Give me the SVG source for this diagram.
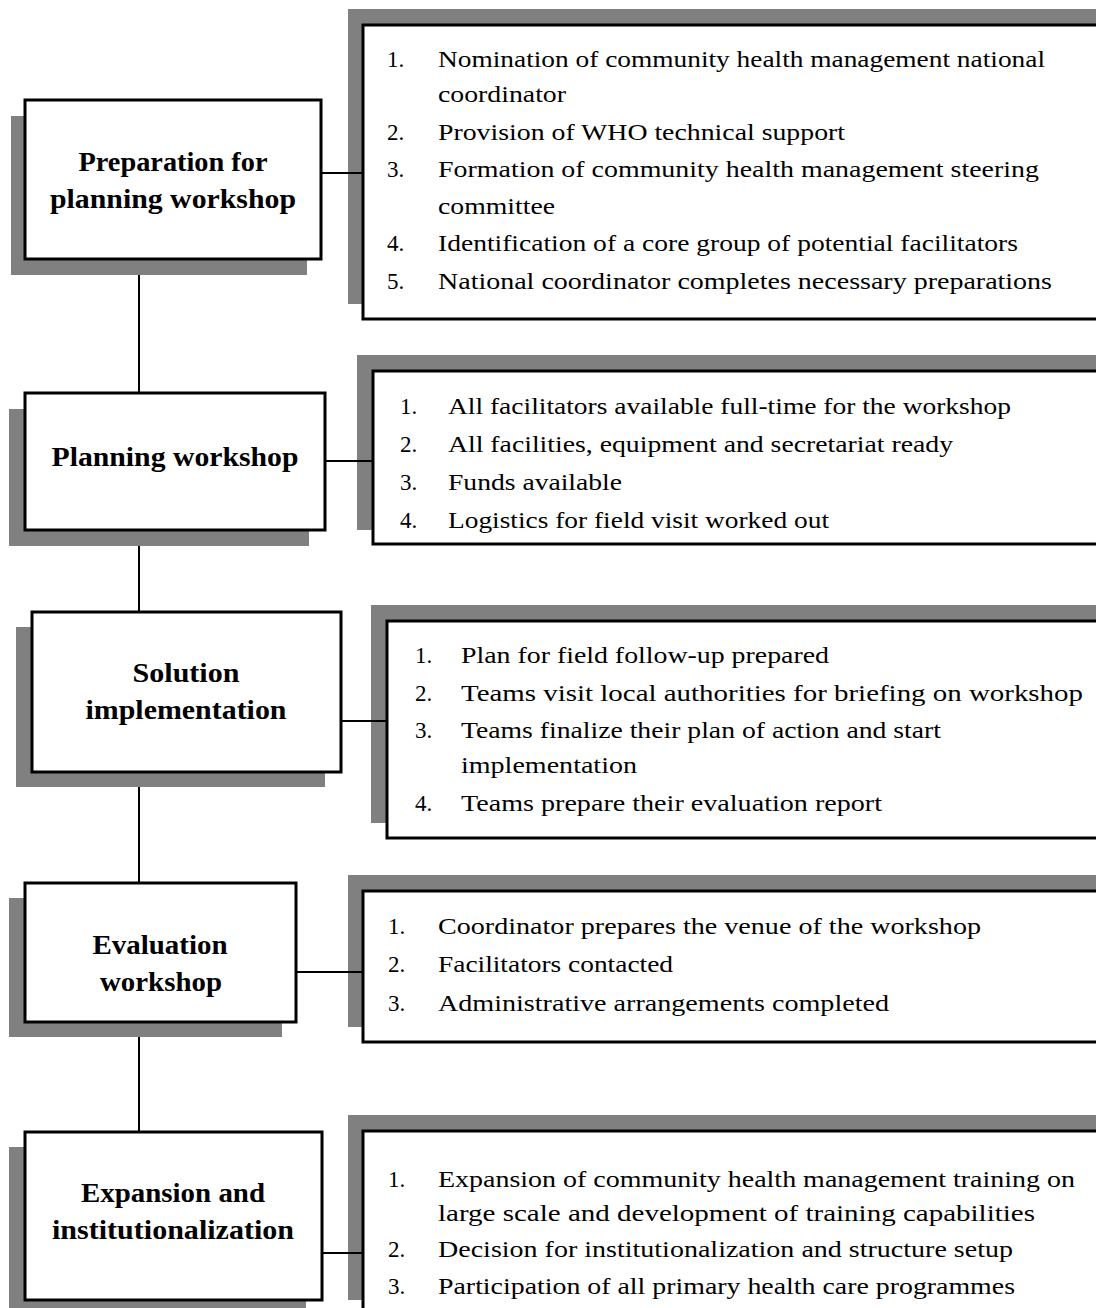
<svg xmlns="http://www.w3.org/2000/svg" width="1096" height="1308" viewBox="0 0 1096 1308">
<style>
.bg{fill:#ffffff}
.shadow{fill:#808080}
.box{fill:#ffffff;stroke:#000000;stroke-width:3}
.conn{stroke:#000000;stroke-width:2;fill:none}
.label{font-family:"Liberation Serif","Times New Roman",serif;font-weight:bold;font-size:27px;fill:#000000;text-anchor:middle}
.item{font-family:"Liberation Serif","Times New Roman",serif;font-size:23px;fill:#000000}
</style>
<rect class="bg" x="0" y="0" width="1096" height="1308"/>

<g id="node-prep">
<rect class="shadow" x="11" y="116" width="296" height="159"/>
<rect class="box" x="25" y="100" width="296" height="159"/>
<text class="label" x="173" y="171" textLength="189" lengthAdjust="spacingAndGlyphs">Preparation for</text>
<text class="label" x="173" y="208" textLength="246" lengthAdjust="spacingAndGlyphs">planning workshop</text>
</g>
<g id="list-prep">
<rect class="shadow" x="348" y="9" width="760" height="295"/>
<rect class="box" x="363" y="25" width="760" height="294"/>
<text class="item" x="387" y="67">1.</text>
<text class="item" x="438" y="67" textLength="607" lengthAdjust="spacingAndGlyphs">Nomination of community health management national</text>
<text class="item" x="438" y="102" textLength="128" lengthAdjust="spacingAndGlyphs">coordinator</text>
<text class="item" x="387" y="140">2.</text>
<text class="item" x="438" y="140" textLength="407" lengthAdjust="spacingAndGlyphs">Provision of WHO technical support</text>
<text class="item" x="387" y="177">3.</text>
<text class="item" x="438" y="177" textLength="601" lengthAdjust="spacingAndGlyphs">Formation of community health management steering</text>
<text class="item" x="438" y="214" textLength="117" lengthAdjust="spacingAndGlyphs">committee</text>
<text class="item" x="387" y="251">4.</text>
<text class="item" x="438" y="251" textLength="580" lengthAdjust="spacingAndGlyphs">Identification of a core group of potential facilitators</text>
<text class="item" x="387" y="289">5.</text>
<text class="item" x="438" y="289" textLength="614" lengthAdjust="spacingAndGlyphs">National coordinator completes necessary preparations</text>
</g>

<g id="node-planning">
<rect class="shadow" x="9" y="409" width="300" height="137"/>
<rect class="box" x="25" y="393" width="300" height="137"/>
<text class="label" x="175" y="466" textLength="247" lengthAdjust="spacingAndGlyphs">Planning workshop</text>
</g>
<g id="list-planning">
<rect class="shadow" x="357" y="355" width="760" height="175"/>
<rect class="box" x="373" y="371" width="760" height="173"/>
<text class="item" x="400" y="414">1.</text>
<text class="item" x="448" y="414" textLength="563" lengthAdjust="spacingAndGlyphs">All facilitators available full-time for the workshop</text>
<text class="item" x="400" y="452">2.</text>
<text class="item" x="448" y="452" textLength="505" lengthAdjust="spacingAndGlyphs">All facilities, equipment and secretariat ready</text>
<text class="item" x="400" y="490">3.</text>
<text class="item" x="448" y="490" textLength="174" lengthAdjust="spacingAndGlyphs">Funds available</text>
<text class="item" x="400" y="528">4.</text>
<text class="item" x="448" y="528" textLength="381" lengthAdjust="spacingAndGlyphs">Logistics for field visit worked out</text>
</g>

<g id="node-solution">
<rect class="shadow" x="16" y="627" width="309" height="160"/>
<rect class="box" x="32" y="612" width="309" height="160"/>
<text class="label" x="186" y="682" textLength="107" lengthAdjust="spacingAndGlyphs">Solution</text>
<text class="label" x="186" y="719" textLength="201" lengthAdjust="spacingAndGlyphs">implementation</text>
</g>
<g id="list-solution">
<rect class="shadow" x="371" y="605" width="760" height="218"/>
<rect class="box" x="387" y="621" width="760" height="217"/>
<text class="item" x="415" y="663">1.</text>
<text class="item" x="461" y="663" textLength="368" lengthAdjust="spacingAndGlyphs">Plan for field follow-up prepared</text>
<text class="item" x="415" y="701">2.</text>
<text class="item" x="461" y="701" textLength="622" lengthAdjust="spacingAndGlyphs">Teams visit local authorities for briefing on workshop</text>
<text class="item" x="415" y="738">3.</text>
<text class="item" x="461" y="738" textLength="480" lengthAdjust="spacingAndGlyphs">Teams finalize their plan of action and start</text>
<text class="item" x="461" y="773" textLength="176" lengthAdjust="spacingAndGlyphs">implementation</text>
<text class="item" x="415" y="811">4.</text>
<text class="item" x="461" y="811" textLength="421" lengthAdjust="spacingAndGlyphs">Teams prepare their evaluation report</text>
</g>

<g id="node-evaluation">
<rect class="shadow" x="9" y="898" width="273" height="139"/>
<rect class="box" x="25" y="883" width="271" height="139"/>
<text class="label" x="160" y="954" textLength="135" lengthAdjust="spacingAndGlyphs">Evaluation</text>
<text class="label" x="161" y="991" textLength="122" lengthAdjust="spacingAndGlyphs">workshop</text>
</g>
<g id="list-evaluation">
<rect class="shadow" x="348" y="875" width="760" height="152"/>
<rect class="box" x="363" y="891" width="760" height="151"/>
<text class="item" x="388" y="934">1.</text>
<text class="item" x="438" y="934" textLength="543" lengthAdjust="spacingAndGlyphs">Coordinator prepares the venue of the workshop</text>
<text class="item" x="388" y="972">2.</text>
<text class="item" x="438" y="972" textLength="235" lengthAdjust="spacingAndGlyphs">Facilitators contacted</text>
<text class="item" x="388" y="1011">3.</text>
<text class="item" x="438" y="1011" textLength="451" lengthAdjust="spacingAndGlyphs">Administrative arrangements completed</text>
</g>

<g id="node-expansion">
<rect class="shadow" x="9" y="1147" width="297" height="170"/>
<rect class="box" x="25" y="1132" width="297" height="168"/>
<text class="label" x="173" y="1202" textLength="184" lengthAdjust="spacingAndGlyphs">Expansion and</text>
<text class="label" x="173" y="1239" textLength="242" lengthAdjust="spacingAndGlyphs">institutionalization</text>
</g>
<g id="list-expansion">
<rect class="shadow" x="348" y="1115" width="760" height="185"/>
<rect class="box" x="363" y="1131" width="760" height="200"/>
<text class="item" x="388" y="1187">1.</text>
<text class="item" x="438" y="1187" textLength="637" lengthAdjust="spacingAndGlyphs">Expansion of community health management training on</text>
<text class="item" x="438" y="1221" textLength="597" lengthAdjust="spacingAndGlyphs">large scale and development of training capabilities</text>
<text class="item" x="388" y="1257">2.</text>
<text class="item" x="438" y="1257" textLength="575" lengthAdjust="spacingAndGlyphs">Decision for institutionalization and structure setup</text>
<text class="item" x="388" y="1294">3.</text>
<text class="item" x="438" y="1294" textLength="577" lengthAdjust="spacingAndGlyphs">Participation of all primary health care programmes</text>
</g>

<g id="connectors">
<line class="conn" x1="139" y1="275" x2="139" y2="393"/>
<line class="conn" x1="139" y1="546" x2="139" y2="612"/>
<line class="conn" x1="139" y1="787" x2="139" y2="883"/>
<line class="conn" x1="139" y1="1037" x2="139" y2="1132"/>
<line class="conn" x1="321" y1="173" x2="363" y2="173"/>
<line class="conn" x1="325" y1="461" x2="373" y2="461"/>
<line class="conn" x1="341" y1="721" x2="387" y2="721"/>
<line class="conn" x1="296" y1="972" x2="363" y2="972"/>
<line class="conn" x1="322" y1="1253" x2="363" y2="1253"/>
</g>
</svg>
